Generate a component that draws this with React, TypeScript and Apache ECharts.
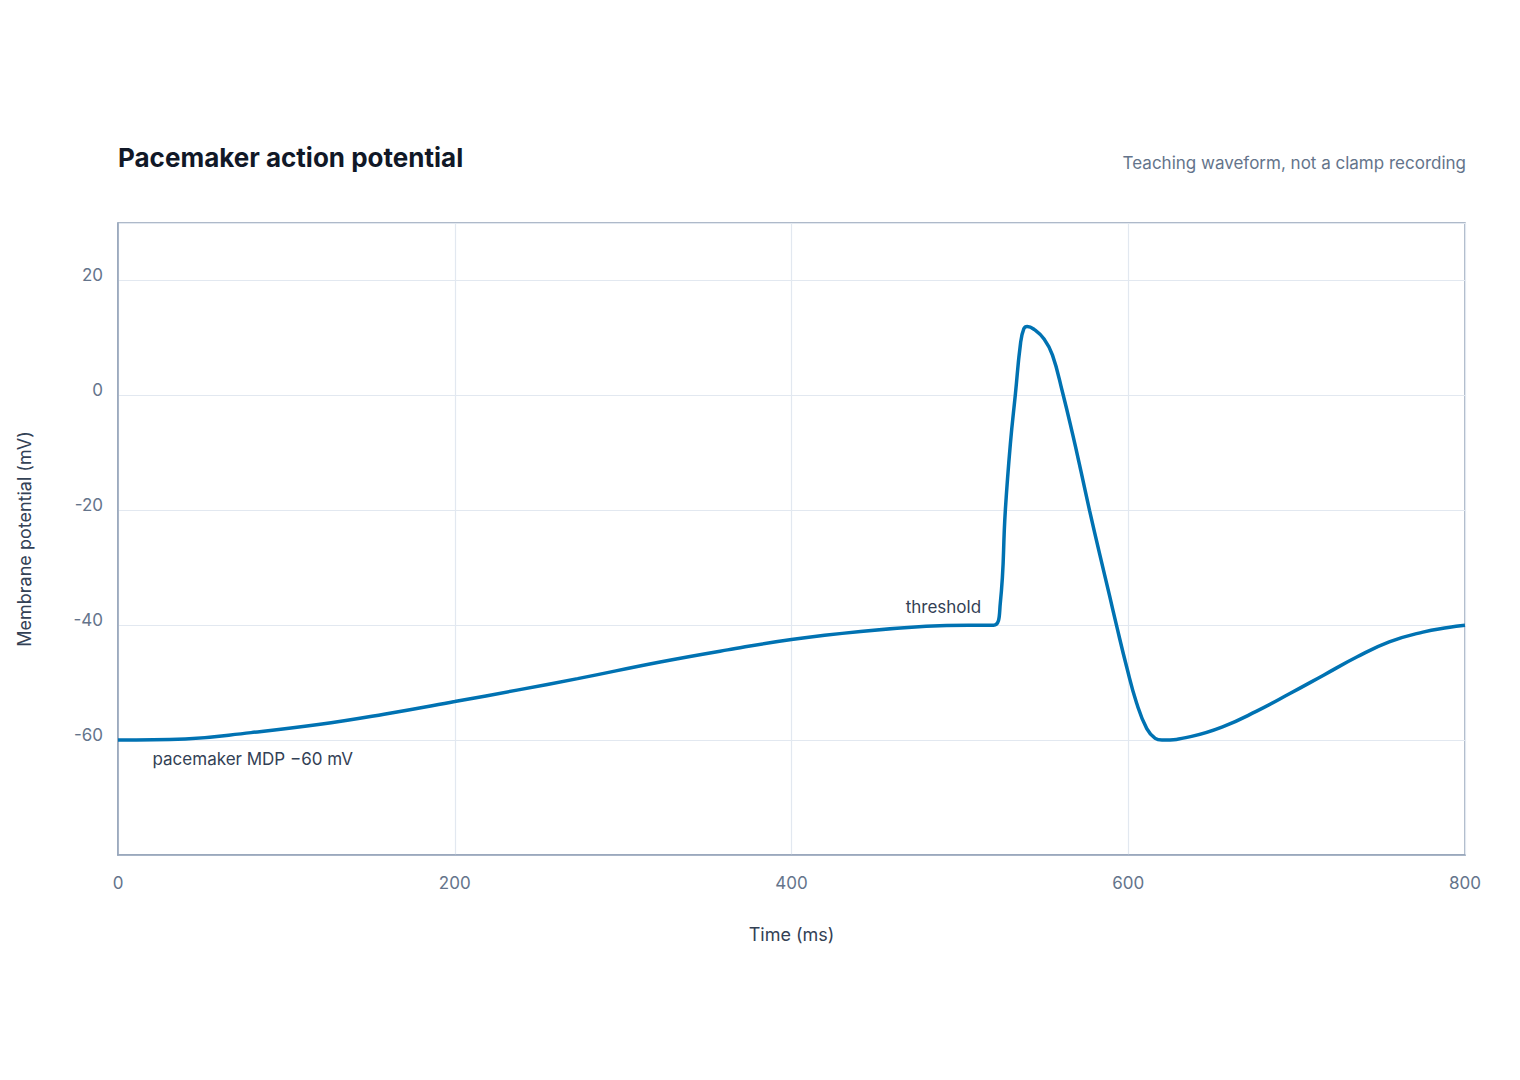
import React, { useEffect, useRef } from "react";
import * as echarts from "echarts";

const timeMs = [0, 40, 79, 119, 158, 200, 237, 273, 322, 362, 400, 441, 480, 505, 520, 524, 527, 530, 533, 536, 538, 540, 544, 550, 555, 561, 567, 572, 577, 583, 589, 593, 599, 605, 611, 616, 620, 637, 656, 676, 696, 716, 736, 755, 775, 790, 800];
const voltage = [-60, -59.8, -58.7, -57.3, -55.5, -53.3, -51.3, -49.3, -46.4, -44.3, -42.5, -41.1, -40.2, -40.0, -40, -36.2, -20, -8.4, 0.3, 9, 11.6, 12, 11.5, 9.8, 7, 0.5, -6.8, -13.3, -20, -27.6, -35, -40, -47.2, -53.6, -58, -59.7, -60, -59.4, -57.7, -55, -51.9, -48.7, -45.5, -42.9, -41.2, -40.4, -40];

const titleText = "Pacemaker action potential";
const subtitleText = "Teaching waveform, not a clamp recording";
const xAxisName = "Time (ms)";
const yAxisName = "Membrane potential (mV)";
const thresholdLabel = "threshold";
const thresholdPoint = [520, -40];
const mdpLabel = "pacemaker MDP \u221260 mV";
const mdpPoint = [0, -60];

const FONT = "Inter, 'Noto Sans', sans-serif";

export default function App() {
  const ref = useRef<HTMLDivElement>(null);
  useEffect(() => {
    if (!ref.current) return;
    const chart = echarts.init(ref.current, undefined, { renderer: "svg" });
    const data = timeMs.map((t, i) => [t, voltage[i]]);
    chart.setOption({
      animation: false,
      backgroundColor: "#ffffff",
      textStyle: { fontFamily: FONT },
      title: [
        {
          text: titleText,
          left: 118,
          top: 144,
          padding: 0,
          textStyle: { fontFamily: FONT, fontSize: 26, fontWeight: 700, color: "#111827" },
        },
        {
          text: subtitleText,
          right: 54,
          top: 154,
          padding: 0,
          textStyle: { fontFamily: FONT, fontSize: 17, fontWeight: 400, color: "#64748b" },
        },
      ],
      grid: {
        left: 118,
        right: 55,
        top: 223,
        bottom: 225,
        show: true,
        borderColor: "#94a3b8",
        borderWidth: 1.5,
        backgroundColor: "transparent",
      },
      xAxis: {
        type: "value",
        min: 0,
        max: 800,
        interval: 200,
        name: xAxisName,
        nameLocation: "middle",
        nameGap: 70,
        nameTextStyle: { fontFamily: FONT, fontSize: 18, color: "#334155" },
        axisLine: { show: true, onZero: false, lineStyle: { color: "#94a3b8", width: 1.5 } },
        axisTick: { show: false },
        axisLabel: { margin: 19, fontFamily: FONT, fontSize: 17, color: "#64748b" },
        splitLine: { show: true, lineStyle: { color: "#e2e8f0", width: 1.2 } },
      },
      yAxis: {
        type: "value",
        min: -80,
        max: 30,
        interval: 20,
        name: yAxisName,
        nameLocation: "middle",
        nameGap: 85,
        nameTextStyle: { fontFamily: FONT, fontSize: 18, color: "#334155" },
        axisLine: { show: true, onZero: false, lineStyle: { color: "#94a3b8", width: 1.5 } },
        axisTick: { show: false },
        axisLabel: {
          margin: 15,
          fontFamily: FONT,
          fontSize: 17,
          color: "#64748b",
          showMinLabel: false,
          showMaxLabel: false,
          verticalAlign: "bottom",
          lineHeight: 10,
        },
        splitLine: { show: true, lineStyle: { color: "#e2e8f0", width: 1.2 } },
      },
      series: [
        {
          type: "line",
          data,
          smooth: 0.45,
          showSymbol: false,
          symbol: "none",
          lineStyle: { color: "#0072B2", width: 3.5 },
          markPoint: {
            symbol: "circle",
            symbolSize: 1,
            itemStyle: { color: "transparent" },
            data: [
              {
                coord: thresholdPoint,
                label: {
                  show: true,
                  formatter: thresholdLabel,
                  position: "left",
                  distance: 12,
                  offset: [0, -18],
                  fontFamily: FONT,
                  fontSize: 17,
                  color: "#334155",
                },
              },
              {
                coord: mdpPoint,
                label: {
                  show: true,
                  formatter: mdpLabel,
                  position: "right",
                  distance: 34,
                  offset: [0, 19],
                  fontFamily: FONT,
                  fontSize: 17,
                  color: "#334155",
                },
              },
            ],
          },
        },
      ],
    });
    return () => chart.dispose();
  }, []);
  return (
    <div
      ref={ref}
      style={{ position: "fixed", left: 0, top: 0, width: 1520, height: 1080 }}
    />
  );
}
